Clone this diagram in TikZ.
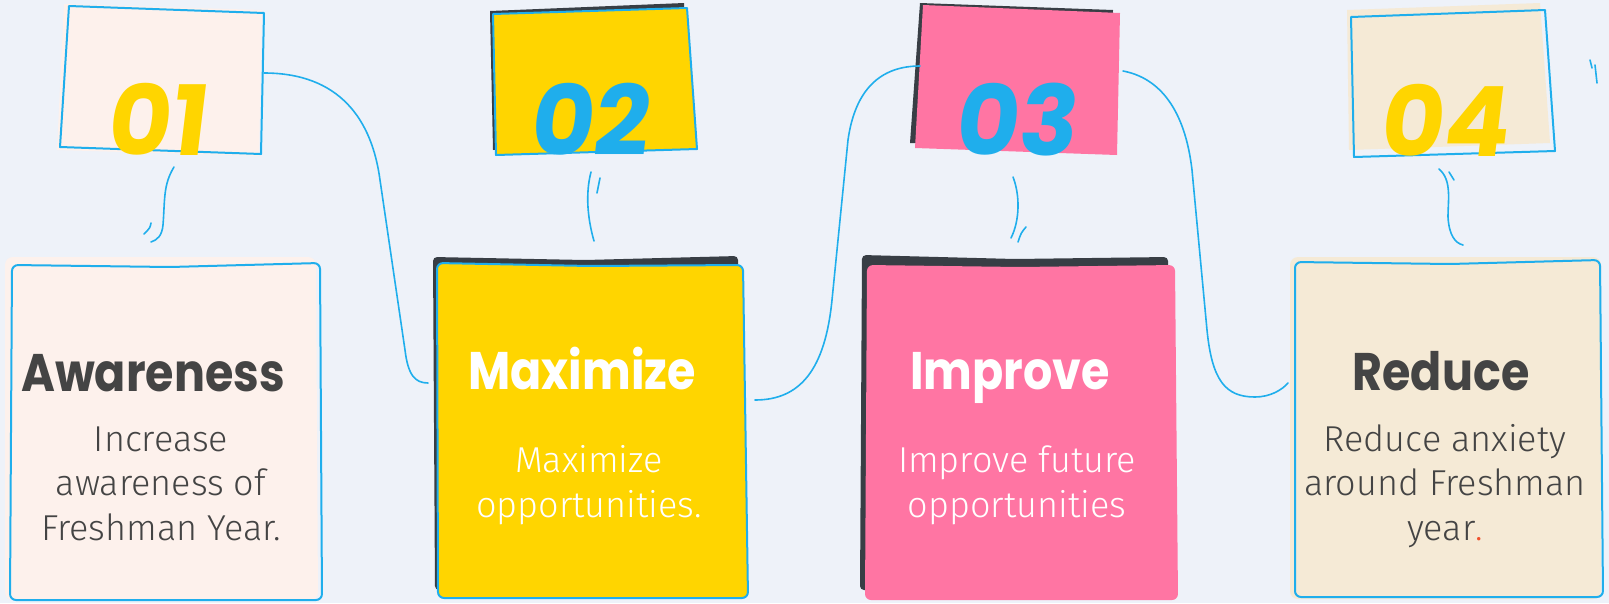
\documentclass[tikz,border=0pt]{standalone}
\usepackage{fontspec}
\usepackage{graphicx}
\newfontfamily\bodyfont{Fira Sans Light}
\newfontfamily\titlefont{Poppins}
\newfontfamily\numfont[FakeSlant=0.12]{Poppins}
\definecolor{bg}{HTML}{EEF2F9}
\definecolor{lineblue}{HTML}{1FAEEC}
\definecolor{peach}{HTML}{FDF1EC}
\definecolor{sunny}{HTML}{FFD500}
\definecolor{rosy}{HTML}{FF75A3}
\definecolor{sand}{HTML}{F5EAD6}
\definecolor{shadow}{HTML}{383E45}
\definecolor{ink}{HTML}{444444}
\definecolor{dotred}{HTML}{F0522E}
\begin{document}
\begin{tikzpicture}[x=1pt,y=-1pt,
  titletext/.style={font=\titlefont\bfseries\fontsize{46}{50}\selectfont, inner sep=0pt, anchor=base},
  bodytext/.style={font=\bodyfont\fontsize{36}{44.5}\selectfont, align=center, inner sep=0pt, anchor=base},
  numtext/.style={font=\numfont\bfseries\fontsize{97}{97}\selectfont, inner sep=0pt, anchor=base},
  wire/.style={draw=lineblue, line width=1.6pt, line cap=round, line join=round},
  outl/.style={draw=lineblue, line width=2pt, line join=round},
  shade/.style={fill=shadow, rounded corners=4pt}
]
\useasboundingbox (0,0) rectangle (1609,603);
\fill[bg] (0,0) rectangle (1609,603);

% ---------- top cards ----------
% 01
\fill[peach] (64,4) -- (262,10) -- (259,156) -- (57,150) -- cycle;
\draw[outl] (69,6) -- (264,13) -- (261,154) -- (60,147) -- cycle;
\coordinate (t1e) at (264,73);
\coordinate (t1s) at (174,167);
% 02
\fill[shadow] (490,11) -- (684,3) -- (690,145) -- (493,150) -- cycle;
\filldraw[fill=sunny, outl] (493,14) -- (687,8) -- (697,149) -- (496,155) -- cycle;
\coordinate (t2s) at (591,172);
% 03
\fill[shadow] (920,3) -- (1113,10) -- (1110,150) -- (910,143) -- cycle;
\fill[rosy] (923,5) -- (1120,13) -- (1117,155) -- (915,148) -- cycle;
\coordinate (t3w) at (920,66);
\coordinate (t3e) at (1123,71);
\coordinate (t3s) at (1013,177);
% 04
\fill[sand] (1347,10) -- (1540,3) -- (1550,143) -- (1349,150) -- cycle;
\draw[outl] (1351,17) -- (1545,10) -- (1555,151) -- (1354,157) -- cycle;
\coordinate (t4s) at (1439,169);

% numbers
\node[numtext, text=sunny] (n1) at (155,155) {01};
\node[numtext, text=lineblue] (n2) at (588,155) {02};
\node[numtext, text=lineblue] (n3) at (1014,155) {03};
\node[numtext, text=sunny] (n4) at (1443,156) {04};

% ---------- bottom cards ----------
% 01
\fill[peach, rounded corners=8pt] (5,257) -- (316,257) -- (318,600) -- (5,600) -- cycle;
\draw[outl, rounded corners=6pt] (10,600) -- (12,265) -- (170,267) -- (320,263) -- (322,600) -- cycle;
% 02
\fill[shade] (433,257) -- (585,260) -- (738,256) -- (740,590) -- (435,590) -- cycle;
\filldraw[fill=sunny, outl, rounded corners=6pt] (438,598) -- (437,263) -- (590,266) -- (743,265) -- (748,598) -- cycle;
\coordinate (b2w) at (428,383);
\coordinate (b2e) at (755,400);
% 03
\fill[shade] (862,255) -- (1015,259) -- (1168,257) -- (1170,590) -- (860,590) -- cycle;
\fill[rosy, rounded corners=6pt] (865,600) -- (867,265) -- (1020,267) -- (1175,265) -- (1178,600) -- cycle;
% 04
\fill[sand, rounded corners=8pt] (1290,257) -- (1601,257) -- (1601,599) -- (1290,599) -- cycle;
\draw[outl, rounded corners=6pt] (1295,597) -- (1295,262) -- (1450,264) -- (1600,260) -- (1603,597) -- cycle;
\coordinate (b4w) at (1288,383);

% ---------- texts ----------
\node[titletext, text=ink] (h1) at (153,391) {\scalebox{1}[1.15]{Awareness}};
\node[titletext, text=white] (h2) at (582,389) {\scalebox{1}[1.15]{Maximize}};
\node[titletext, text=white] (h3) at (1010,389) {\scalebox{1}[1.15]{Improve}};
\node[titletext, text=ink] (h4) at (1441,390) {\scalebox{1}[1.15]{Reduce}};

\node[bodytext, text=ink] (d1) at (161,540) {Increase\\awareness of\\Freshman Year.};
\node[bodytext, text=white] (d2) at (589,517) {Maximize\\opportunities.};
\node[bodytext, text=white] (d3) at (1017,517) {Improve future\\opportunities};
\node[bodytext, text=ink] (d4) at (1445,540) {Reduce anxiety\\around Freshman\\year{\color{dotred}.}};

% ---------- connectors ----------
\draw[wire] (t1e) .. controls (340,73) and (372,120) .. (380,180) -- (405,350) .. controls (408,375) and (415,383) .. (b2w);
\draw[wire] (b2e) .. controls (800,400) and (825,370) .. (832,300) -- (848,140) .. controls (855,90) and (880,66) .. (t3w);
\draw[wire] (t3e) .. controls (1160,78) and (1185,110) .. (1192,170) -- (1207,330) .. controls (1212,380) and (1225,397) .. (1255,397) .. controls (1270,397) and (1282,390) .. (b4w);

% small squiggles
\coordinate (s1) at (151,242);
\draw[wire] (t1s) .. controls (163,185) and (165,200) .. (163,225) .. controls (162,236) and (157,240) .. (s1);
\coordinate (s1a) at (151,223); \coordinate (s1b) at (144,234);
\draw[wire] (s1a) .. controls (150,228) .. (s1b);
\coordinate (s2) at (594,241);
\draw[wire] (t2s) .. controls (585,195) and (588,220) .. (s2);
\coordinate (s2a) at (600,178); \coordinate (s2b) at (597,193);
\draw[wire] (s2a) -- (s2b);
\coordinate (s3) at (1011,238);
\draw[wire] (t3s) .. controls (1020,195) and (1020,220) .. (s3);
\coordinate (s3a) at (1026,227); \coordinate (s3b) at (1018,242);
\draw[wire] (s3a) .. controls (1021,233) .. (s3b);
\coordinate (s4) at (1463,245);
\draw[wire] (t4s) .. controls (1452,180) and (1448,200) .. (1448,217) .. controls (1449,235) and (1455,243) .. (s4);
\coordinate (s4a) at (1449,172); \coordinate (s4b) at (1454,180);
\draw[wire] (s4a) -- (s4b);
\coordinate (r1a) at (1590,60); \coordinate (r1b) at (1592,68);
\coordinate (r2a) at (1595,65); \coordinate (r2b) at (1597,83);
\draw[wire] (r1a) -- (r1b);
\draw[wire] (r2a) -- (r2b);
\end{tikzpicture}
\end{document}
